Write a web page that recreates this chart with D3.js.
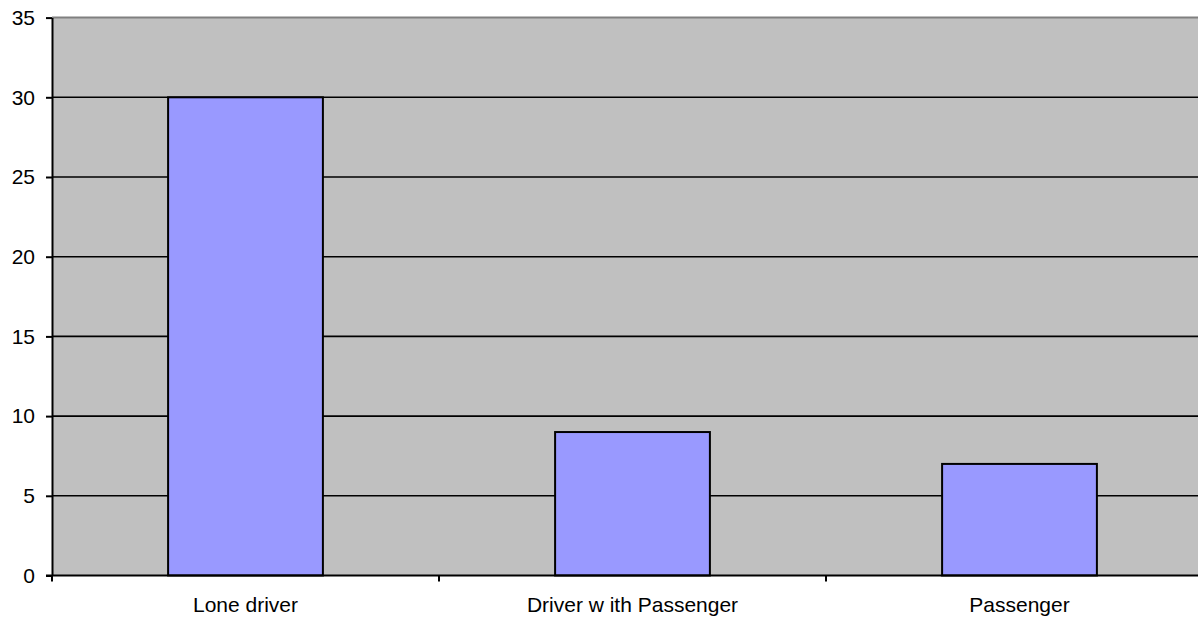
<!DOCTYPE html>
<html>
<head>
<meta charset="utf-8">
<script src="https://cdn.jsdelivr.net/npm/d3@7"></script>
<style>
  body { margin: 0; background: #fff; }
  text { font-family: "Liberation Sans", Arial, sans-serif; fill: #000; }
</style>
</head>
<body>
<div id="chart"></div>
<script>
const categories = ["Lone driver", "Driver w ith Passenger", "Passenger"];
const values = [30, 9, 7];
const yTicks = [0, 5, 10, 15, 20, 25, 30, 35];

const W = 1198, H = 622;
const margin = { left: 52, top: 17.6, bottom: 575.5 };
const band = 387;

const svg = d3.select("#chart").append("svg")
    .attr("width", W)
    .attr("height", H);

let x = d3.scaleBand()
    .domain(categories)
    .range([margin.left, margin.left + band * categories.length])
    .paddingInner(0.6)
    .paddingOuter(0.3);
let y = d3.scaleLinear().domain([0, 35]).range([margin.bottom, margin.top]);

// plot area
svg.append("rect")
    .attr("x", margin.left)
    .attr("y", y(35))
    .attr("width", band * categories.length)
    .attr("height", y(0) - y(35))
    .attr("fill", "#c0c0c0");

// top border
svg.append("line")
    .attr("x1", margin.left).attr("x2", W)
    .attr("y1", y(35)).attr("y2", y(35))
    .attr("stroke", "#808080")
    .attr("stroke-width", 2);

// gridlines
svg.append("g")
    .selectAll("line")
    .data(yTicks.filter(d => d > 0 && d < 35))
    .enter()
    .append("line")
    .attr("x1", margin.left).attr("x2", W)
    .attr("y1", d => y(d)).attr("y2", d => y(d))
    .attr("stroke", "#000")
    .attr("stroke-width", 1.6);

// bars
svg.append("g")
    .selectAll("rect")
    .data(values)
    .enter()
    .append("rect")
    .attr("x", (d, i) => x(categories[i]))
    .attr("y", d => y(d))
    .attr("width", x.bandwidth())
    .attr("height", d => y(0) - y(d))
    .attr("fill", "#9999ff")
    .attr("stroke", "#000")
    .attr("stroke-width", 2);

// y axis
let yAxis = svg.append("g")
    .attr("transform", `translate(${margin.left},0)`)
    .call(d3.axisLeft(y).tickValues(yTicks).tickSize(6).tickPadding(11).tickSizeOuter(0));
yAxis.select(".domain").attr("stroke", "#000").attr("stroke-width", 2);
yAxis.selectAll(".tick line").attr("stroke", "#000").attr("stroke-width", 2);
yAxis.selectAll("text")
    .style("font-size", "21px")
    .attr("fill", "#000");

// x axis
let xAxis = svg.append("g")
    .attr("transform", `translate(0,${margin.bottom})`)
    .call(d3.axisBottom(x).tickSize(0).tickPadding(22).tickSizeOuter(0));
xAxis.select(".domain").remove();
xAxis.append("line")
    .attr("x1", margin.left - 6).attr("x2", W)
    .attr("stroke", "#000").attr("stroke-width", 2);
xAxis.selectAll(".tick text")
    .style("font-size", "21px")
    .attr("fill", "#000");

// category separators
xAxis.selectAll(".sep")
    .data(d3.range(0, categories.length + 1))
    .enter()
    .append("line")
    .attr("class", "sep")
    .attr("x1", i => margin.left + band * i).attr("x2", i => margin.left + band * i)
    .attr("y1", 0).attr("y2", 6)
    .attr("stroke", "#000")
    .attr("stroke-width", 2);
</script>
</body>
</html>
